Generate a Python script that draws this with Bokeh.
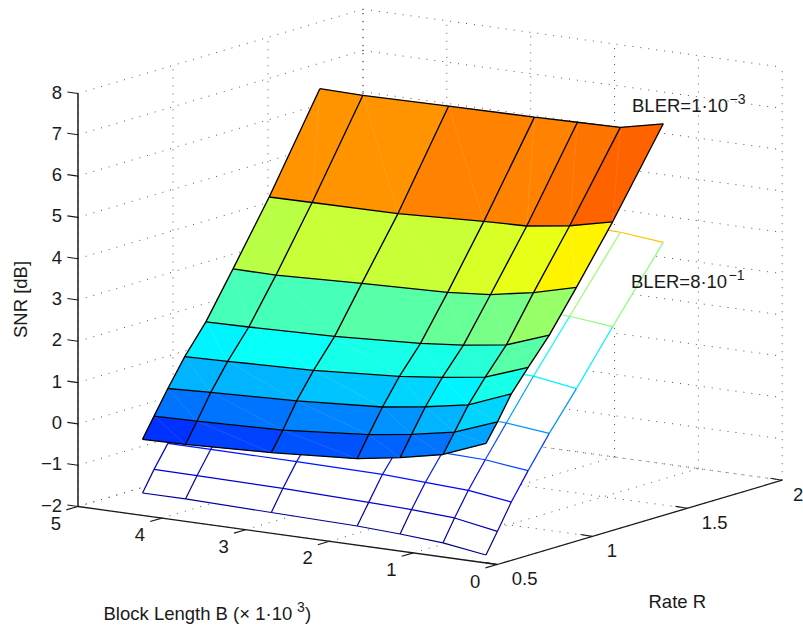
import numpy as np
from bokeh.embed import file_html
from bokeh.models import Range1d
from bokeh.plotting import figure
from bokeh.resources import INLINE
from bokeh.core.properties import value

# Data
rate = [8/12, 8/11, 8/10, 8/9, 8/8, 8/7, 8/6, 8/5]
block = [4.608, 4.096, 3.072, 2.048, 1.536, 1.024, 0.512]
snr_top = [
    [-0.49, -0.47, -0.38, -0.24, -0.07, 0.15, 0.56],
    [-0.01, 0.01, 0.08, 0.26, 0.41, 0.61, 1.00],
    [0.56, 0.61, 0.69, 0.83, 0.98, 1.17, 1.58],
    [1.21, 1.24, 1.31, 1.45, 1.57, 1.72, 2.10],
    [1.90, 1.92, 1.98, 2.10, 2.20, 2.35, 2.73],
    [2.99, 2.98, 3.07, 3.14, 3.23, 3.42, 3.69],
    [4.47, 4.48, 4.50, 4.60, 4.63, 4.78, 5.02],
    [6.73, 6.71, 6.74, 6.76, 6.78, 6.80, 7.03],
]
snr_bottom = [
    [-1.79, -1.79, -1.83, -1.87, -1.92, -1.99, -2.14],
    [-1.30, -1.31, -1.33, -1.38, -1.41, -1.47, -1.65],
    [-0.77, -0.77, -0.78, -0.80, -0.85, -0.90, -1.04],
    [-0.20, -0.20, -0.21, -0.23, -0.25, -0.28, -0.40],
    [0.52, 0.52, 0.51, 0.50, 0.49, 0.46, 0.35],
    [1.46, 1.46, 1.45, 1.45, 1.43, 1.40, 1.24],
    [2.65, 2.65, 2.64, 2.63, 2.62, 2.59, 2.48],
    [4.30, 4.30, 4.30, 4.30, 4.29, 4.26, 4.16],
]
z_ticks = [-2, -1, 0, 1, 2, 3, 4, 5, 6, 7, 8]
b_ticks = [0, 1, 2, 3, 4, 5]
r_ticks = [0.5, 1, 1.5, 2]
r_tick_labels = ["0.5", "1", "1.5", "2"]

FONT = value("Liberation Sans")
FS = "18.5px"
SUP = "14px"


def proj(r, b, z):
    """Orthographic view of the 3D axes box."""
    x = 496.7 - 83.84 * b + 190.0 * (r - 0.5)
    y = 564.0 - 11.6 * b - 56.2 * (r - 0.5) - 41.3 * (z + 2)
    return x, y


all_z = np.array(snr_top + snr_bottom)
zmin, zmax = all_z.min(), all_z.max()


def jet(z):
    v = (z - zmin) / (zmax - zmin)
    v = min(int(v * 64), 63) / 63
    r = np.clip(min(4 * v - 1.5, -4 * v + 4.5), 0, 1)
    g = np.clip(min(4 * v - 0.5, -4 * v + 3.5), 0, 1)
    b = np.clip(min(4 * v + 0.5, -4 * v + 2.5), 0, 1)
    return "#%02x%02x%02x" % (int(r * 255), int(g * 255), int(b * 255))


p = figure(width=803, height=628, x_range=Range1d(0, 803), y_range=Range1d(628, 0),
           output_backend="svg", toolbar_location=None, min_border=0,
           x_axis_location=None, y_axis_location=None)
p.grid.visible = False
p.outline_line_color = None
p.background_fill_color = "white"


def seg(a, b, color="#000000", width=1.0, dash="solid", alpha=1.0):
    p.line([a[0], b[0]], [a[1], b[1]], line_color=color, line_width=width,
           line_dash=dash, line_alpha=alpha)


DOT = "1 7"
GRID = "#555555"
rmin, rmax, bmin, bmax, zlo, zhi = 0.5, 2.0, 0.0, 5.0, -2, 8

# Grid on the back walls and the floor
for z in z_ticks:
    seg(proj(rmin, bmax, z), proj(rmax, bmax, z), GRID, 1, DOT)
    seg(proj(rmax, bmax, z), proj(rmax, bmin, z), GRID, 1, DOT)
for r in r_ticks:
    seg(proj(r, bmax, zlo), proj(r, bmax, zhi), GRID, 1, DOT)
    seg(proj(r, bmin, zlo), proj(r, bmax, zlo), GRID, 1, DOT)
for b in b_ticks:
    seg(proj(rmax, b, zlo), proj(rmax, b, zhi), GRID, 1, DOT)
    seg(proj(rmin, b, zlo), proj(rmax, b, zlo), GRID, 1, DOT)

# Axes
AX = "#1a1a1a"
seg(proj(rmin, bmax, zlo), proj(rmin, bmax, zhi), AX, 1.5)
seg(proj(rmin, bmax, zlo), proj(rmin, bmin, zlo), AX, 1.3)
seg(proj(rmin, bmin, zlo), proj(rmax, bmin, zlo), AX, 1.3)
for z in z_ticks:
    a = proj(rmin, bmax, z)
    seg(a, (a[0] - 10.7, a[1] - 1.5), AX, 1.1)
for b in b_ticks:
    a = proj(rmin, b, zlo)
    seg(a, (a[0] - 11.7, a[1] + 3.4), AX, 1.1)
for r in r_ticks:
    a = proj(r, bmin, zlo)
    seg(a, (a[0] - 11.7, a[1] - 1.9), AX, 1.1)


def corners(data, i, j):
    pts = [proj(rate[i], block[j], data[i][j]),
           proj(rate[i], block[j + 1], data[i][j + 1]),
           proj(rate[i + 1], block[j + 1], data[i + 1][j + 1]),
           proj(rate[i + 1], block[j], data[i + 1][j])]
    return [q[0] for q in pts], [q[1] for q in pts]


# Lower surface: white-filled mesh
nr, nb = len(rate), len(block)
for i in range(nr - 1):
    for j in range(nb - 1):
        xs, ys = corners(snr_bottom, i, j)
        p.patch(xs, ys, fill_color="white", line_color=None)
for i in range(nr):
    for j in range(nb - 1):
        seg(proj(rate[i], block[j], snr_bottom[i][j]),
            proj(rate[i], block[j + 1], snr_bottom[i][j + 1]),
            jet(snr_bottom[i][j + 1]), 1.2)
for i in range(nr - 1):
    for j in range(nb):
        seg(proj(rate[i], block[j], snr_bottom[i][j]),
            proj(rate[i + 1], block[j], snr_bottom[i + 1][j]),
            jet(snr_bottom[i][j]), 1.2)

# Upper surface: flat-shaded faces with black edges
for i in range(nr - 1):
    for j in range(nb - 1):
        xs, ys = corners(snr_top, i, j)
        c = jet(snr_top[i][j + 1])
        p.patch(xs, ys, fill_color=c, line_color=c, line_width=0.3)
for i in range(nr - 1):
    for j in range(nb - 1):
        seg(proj(rate[i + 1], block[j], snr_top[i + 1][j]),
            proj(rate[i], block[j + 1], snr_top[i][j + 1]),
            "#ffffff", 0.6, "solid", 0.18)
for i in range(nr):
    seg_x = [proj(rate[i], b, z)[0] for b, z in zip(block, snr_top[i])]
    seg_y = [proj(rate[i], b, z)[1] for b, z in zip(block, snr_top[i])]
    p.line(seg_x, seg_y, line_color="#000000", line_width=1.35)
for j in range(nb):
    seg_x = [proj(rate[i], block[j], snr_top[i][j])[0] for i in range(nr)]
    seg_y = [proj(rate[i], block[j], snr_top[i][j])[1] for i in range(nr)]
    p.line(seg_x, seg_y, line_color="#000000", line_width=1.35)


def txt(x, y, s, size=FS, align="left", angle=0.0):
    p.text([x], [y], text=[s], text_font=FONT, text_font_size=size, text_color="#1a1a1a",
           text_align=align, text_baseline="middle", angle=angle)


# Tick labels
for z in z_ticks:
    a = proj(rmin, bmax, z)
    lab = str(z).replace("-", "\u2212")
    txt(61.5, a[1] - 1.5, lab, align="right")
for b in b_ticks:
    a = proj(rmin, b, zlo)
    txt(a[0] - 22, a[1] + 16.5, str(b), align="center")
for r, lab in zip(r_ticks, r_tick_labels):
    a = proj(r, bmin, zlo)
    txt(min(a[0] + 14.5, 792.5), a[1] + 13.8, lab)

# Axis titles and annotations
txt(103, 612.5, "Block Length B (\u00d7 1\u00b710")
txt(296.5, 606, "3", size=SUP)
txt(304.5, 612.5, ")")
txt(648, 600.8, "Rate R")
txt(19.5, 299, "SNR [dB]", align="center", angle=np.pi / 2)
txt(631.5, 105.2, "BLER=1\u00b710")
txt(729, 98, "\u22123", size=SUP)
txt(630.5, 280.8, "BLER=8\u00b710")
txt(728, 274, "\u22121", size=SUP)

open("out.html", "w").write(file_html(p, INLINE))
